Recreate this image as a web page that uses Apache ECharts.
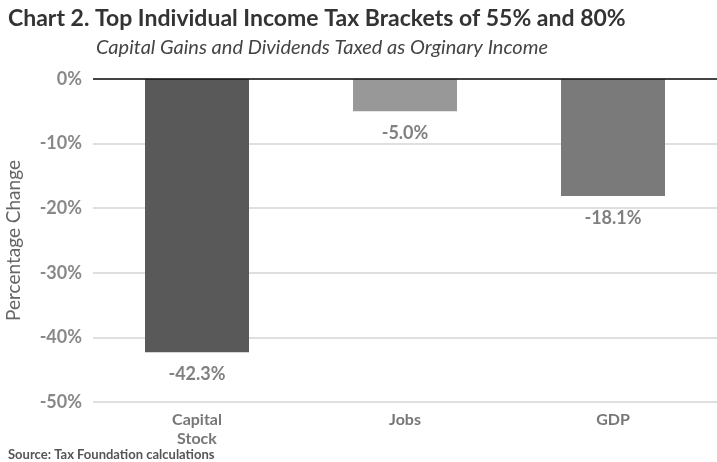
<!DOCTYPE html>
<html><head><meta charset="utf-8">
<script src="https://cdn.jsdelivr.net/npm/echarts@6/dist/echarts.min.js"></script>
<style>html,body{margin:0;padding:0;background:#fff}#c{width:717px;height:462px}</style>
</head><body><div id="c"></div>
<script>
const categories = ['Capital\nStock', 'Jobs', 'GDP'];
const values = [-42.3, -5.0, -18.1];
const barColors = ['#595959', '#989898', '#7a7a7a'];
const yTicks = [0, -10, -20, -30, -40, -50];

const chart = echarts.init(document.getElementById('c'));
chart.setOption({
  animation: false,
  backgroundColor: '#fff',
  title: [
    {text: 'Chart 2. Top Individual Income Tax Brackets of 55% and 80%', left: 3, top: 2,
     textStyle: {fontFamily: 'Lato', fontWeight: 'bold', fontSize: 23, color: '#333'}},
    {text: 'Capital Gains and Dividends Taxed as Orginary Income', left: 91, top: 33,
     textStyle: {fontFamily: 'Lato', fontStyle: 'italic', fontWeight: 'normal', fontSize: 20, color: '#444'}},
    {text: 'Source: Tax Foundation calculations', left: 3, top: 443,
     textStyle: {fontFamily: 'Lato', fontWeight: 'bold', fontSize: 13, color: '#555'}}
  ],
  grid: {left: 93, right: 0, top: 79, bottom: 60, outerBoundsMode: 'none'},
  xAxis: {
    type: 'category', data: categories, position: 'bottom',
    axisLine: {show: false}, axisTick: {show: false},
    axisLabel: {fontFamily: 'Lato', fontWeight: 'bold', fontSize: 16, color: '#777', margin: 8, lineHeight: 19}
  },
  yAxis: {
    type: 'value', min: -50, max: 0, interval: 10,
    name: 'Percentage Change', nameLocation: 'middle', nameGap: 70, nameRotate: 90,
    nameTextStyle: {fontFamily: 'Lato', fontSize: 19, color: '#666'},
    axisLine: {show: false}, axisTick: {show: false},
    axisLabel: {fontFamily: 'Lato', fontWeight: 'bold', fontSize: 18, color: '#888', margin: 11,
      formatter: v => v + '%'},
    splitLine: {lineStyle: {color: '#d4d4d4', width: 1.5}}
  },
  series: [{
    type: 'bar', barWidth: '50%',
    data: values.map((v, i) => ({value: v, itemStyle: {color: barColors[i]}})),
    label: {show: true, position: 'bottom', distance: 13, fontFamily: 'Lato', fontWeight: 'bold', fontSize: 18, color: '#808080',
      formatter: p => p.value.toFixed(1) + '%'},
    markLine: {silent: true, symbol: 'none', label: {show: false},
      lineStyle: {color: '#111', width: 1.5, type: 'solid'}, data: [{yAxis: 0}]}
  }]
});
</script></body></html>
